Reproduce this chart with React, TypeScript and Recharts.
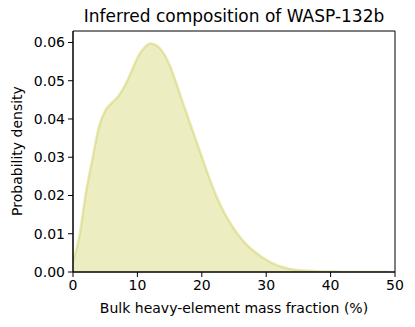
import React from 'react';
import { ComposedChart, Area, XAxis, YAxis, ReferenceArea } from 'recharts';

// bulk heavy-element mass fraction (%) and the density
const massFraction = [
  0, 1, 2, 3, 4, 5, 6, 7, 8, 9, 10, 11, 12, 13, 14, 15, 16, 17, 18, 19, 20, 21, 22, 23, 24,
  25, 26, 27, 28, 29, 30, 31, 32, 33, 34, 35, 36, 37, 38, 39, 40, 41, 42, 43, 44, 45, 46, 47, 48, 49,
];
const density = [
  0.0028, 0.0095, 0.0208, 0.0295, 0.0378, 0.0422, 0.0442, 0.0459, 0.0486, 0.0522,
  0.056, 0.0585, 0.0597, 0.0592, 0.0574, 0.0542, 0.0496, 0.0446, 0.0398, 0.035,
  0.0302, 0.0254, 0.021, 0.0172, 0.014, 0.0113, 0.009, 0.0071, 0.0056, 0.0043,
  0.0032, 0.0023, 0.0016, 0.0011, 0.0007, 0.0005, 0.0004, 0.0003, 0.0002, 0.0001,
  0.0001, 0.0001, 0.0, 0.0, 0.0, 0.0, 0.0, 0.0, 0.0, 0.0,
];
const xTicks = [0, 10, 20, 30, 40, 50];
const yTicks = [0, 0.01, 0.02, 0.03, 0.04, 0.05, 0.06];

const data = massFraction.map((x, i) => ({ x, y: density[i] }));

const font = 'DejaVu Sans, sans-serif';
const tickStyle = { fontSize: 14, fill: '#000', fontFamily: font };

export default function App() {
  return (
    <div style={{ position: 'fixed', left: 0, top: 0, width: 415, height: 327, background: '#fff' }}>
      <div style={{ position: 'absolute', left: 0, width: 468, top: 6, textAlign: 'center', fontSize: 17, fontFamily: font, lineHeight: '20px' }}>
        Inferred composition of WASP-132b
      </div>
      <div style={{ position: 'absolute', left: 0, width: 468, top: 299, textAlign: 'center', fontSize: 14, fontFamily: font, lineHeight: '18px' }}>
        Bulk heavy-element mass fraction (%)
      </div>
      <div style={{ position: 'absolute', left: 17, top: 151, width: 0, height: 0 }}>
        <div style={{ position: 'absolute', left: -100, top: -9, width: 200, textAlign: 'center', fontSize: 14, fontFamily: font, lineHeight: '18px', transform: 'rotate(-90deg)' }}>
          Probability density
        </div>
      </div>
      <ComposedChart width={415} height={327} data={data} margin={{ top: 31, right: 20, bottom: 25, left: 13 }} style={{ position: 'absolute', left: 0, top: 0 }}>
        <XAxis dataKey="x" type="number" domain={[0, 50]} ticks={xTicks} tick={tickStyle} tickSize={5} tickMargin={3} stroke="#000" tickLine={{ stroke: '#000' }} height={30} allowDataOverflow />
        <YAxis type="number" domain={[0, 0.063]} ticks={yTicks} tick={tickStyle} tickFormatter={(v: number) => v.toFixed(2)} tickSize={5} tickMargin={3} stroke="#000" width={60} allowDataOverflow />
        <Area dataKey="y" type="monotone" fill="#bcbd22" fillOpacity={0.28} stroke="#bcbd22" strokeOpacity={0.3} strokeWidth={2.5} isAnimationActive={false} />
        <ReferenceArea x1={0} x2={50} y1={0} y2={0.063} fill="none" stroke="#000" strokeWidth={1} />
      </ComposedChart>
    </div>
  );
}
